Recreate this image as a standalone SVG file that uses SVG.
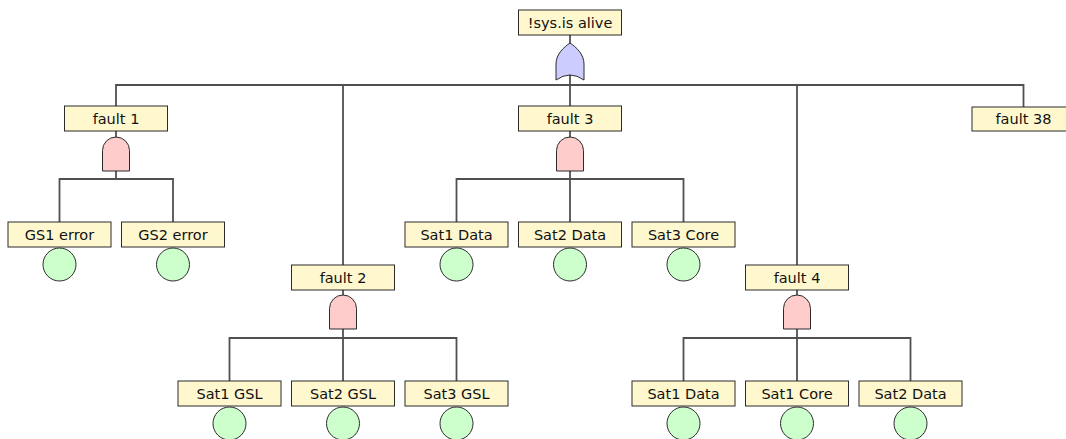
<svg xmlns="http://www.w3.org/2000/svg" width="1066" height="439" viewBox="0 0 1066 439">
  <style>
    .box { fill: #fff8cf; stroke: #2b2b2b; stroke-width: 1; }
    .lbl { font-family: "DejaVu Sans", "Liberation Sans", sans-serif; font-size: 14.5px; fill: #111111; text-anchor: middle; }
    .wire { fill: none; stroke: #505050; stroke-width: 1.8; }
    .and { fill: #ffcccc; stroke: #2b2b2b; stroke-width: 1; }
    .or { fill: #ccccff; stroke: #2b2b2b; stroke-width: 1; }
    .basic { fill: #ccffcc; stroke: #2b2b2b; stroke-width: 1; }
  </style>
  <defs>
    <!-- gate shapes, origin at the top centre -->
    <path id="andGate" class="and" d="M -13.5,34 V 13.5 A 13.5 13.5 0 0 1 13.5 13.5 V 34 Z"/>
    <path id="orGate" class="or" d="M -14,37 V 21 C -14,11 -6,4 0,0 C 6,4 14,11 14,21 V 37 Q 0,27 -14,37 Z"/>
  </defs>

  <rect width="1066" height="439" fill="#ffffff"/>

  <!-- connectors -->
  <g id="connectors" class="wire">
    <!-- top event to its children -->
    <path d="M 570,35 V 85"/>
    <path d="M 116,106 V 85 H 1023.5 V 107"/>
    <path d="M 343,85 V 265"/>
    <path d="M 570,85 V 106"/>
    <path d="M 797,85 V 265"/>
    <!-- fault 1 -->
    <path d="M 116,131 V 179"/>
    <path d="M 59.5,222 V 179 H 173 V 222"/>
    <!-- fault 3 -->
    <path d="M 570,131 V 222"/>
    <path d="M 456.5,222 V 179 H 683.5 V 222"/>
    <!-- fault 2 -->
    <path d="M 343,290 V 381"/>
    <path d="M 229.5,381 V 338 H 456.5 V 381"/>
    <!-- fault 4 -->
    <path d="M 797,290 V 381"/>
    <path d="M 683.5,381 V 338 H 910.5 V 381"/>
  </g>

  <!-- top event -->
  <g id="top">
    <rect class="box" x="518.5" y="10" width="103" height="25"/>
    <text class="lbl" x="570" y="27.5">!sys.is alive</text>
    <use href="#orGate" x="570" y="43"/>
  </g>

  <!-- intermediate events -->
  <g id="fault1">
    <rect class="box" x="64.5" y="106" width="103" height="25"/>
    <text class="lbl" x="116" y="123.5">fault 1</text>
    <use href="#andGate" x="116" y="137"/>
  </g>
  <g id="fault3">
    <rect class="box" x="518.5" y="106" width="103" height="25"/>
    <text class="lbl" x="570" y="123.5">fault 3</text>
    <use href="#andGate" x="570" y="137"/>
  </g>
  <g id="fault38">
    <rect class="box" x="972" y="107" width="103" height="24"/>
    <text class="lbl" x="1023.5" y="124">fault 38</text>
  </g>
  <g id="fault2">
    <rect class="box" x="291.5" y="265" width="103" height="25"/>
    <text class="lbl" x="343" y="282.5">fault 2</text>
    <use href="#andGate" x="343" y="295"/>
  </g>
  <g id="fault4">
    <rect class="box" x="745.5" y="265" width="103" height="25"/>
    <text class="lbl" x="797" y="282.5">fault 4</text>
    <use href="#andGate" x="797" y="295"/>
  </g>

  <!-- basic events -->
  <g id="gs1">
    <rect class="box" x="8" y="222" width="103" height="25"/>
    <text class="lbl" x="59.5" y="239.5">GS1 error</text>
    <circle class="basic" cx="59.5" cy="264.5" r="16.5"/>
  </g>
  <g id="gs2">
    <rect class="box" x="121.5" y="222" width="103" height="25"/>
    <text class="lbl" x="173" y="239.5">GS2 error</text>
    <circle class="basic" cx="173" cy="264.5" r="16.5"/>
  </g>
  <g id="f3sat1data">
    <rect class="box" x="405" y="222" width="103" height="25"/>
    <text class="lbl" x="456.5" y="239.5">Sat1 Data</text>
    <circle class="basic" cx="456.5" cy="264.5" r="16.5"/>
  </g>
  <g id="f3sat2data">
    <rect class="box" x="518.5" y="222" width="103" height="25"/>
    <text class="lbl" x="570" y="239.5">Sat2 Data</text>
    <circle class="basic" cx="570" cy="264.5" r="16.5"/>
  </g>
  <g id="f3sat3core">
    <rect class="box" x="632" y="222" width="103" height="25"/>
    <text class="lbl" x="683.5" y="239.5">Sat3 Core</text>
    <circle class="basic" cx="683.5" cy="264.5" r="16.5"/>
  </g>
  <g id="sat1gsl">
    <rect class="box" x="178" y="381" width="103" height="25"/>
    <text class="lbl" x="229.5" y="398.5">Sat1 GSL</text>
    <circle class="basic" cx="229.5" cy="423.5" r="16.5"/>
  </g>
  <g id="sat2gsl">
    <rect class="box" x="291.5" y="381" width="103" height="25"/>
    <text class="lbl" x="343" y="398.5">Sat2 GSL</text>
    <circle class="basic" cx="343" cy="423.5" r="16.5"/>
  </g>
  <g id="sat3gsl">
    <rect class="box" x="405" y="381" width="103" height="25"/>
    <text class="lbl" x="456.5" y="398.5">Sat3 GSL</text>
    <circle class="basic" cx="456.5" cy="423.5" r="16.5"/>
  </g>
  <g id="f4sat1data">
    <rect class="box" x="632" y="381" width="103" height="25"/>
    <text class="lbl" x="683.5" y="398.5">Sat1 Data</text>
    <circle class="basic" cx="683.5" cy="423.5" r="16.5"/>
  </g>
  <g id="f4sat1core">
    <rect class="box" x="745.5" y="381" width="103" height="25"/>
    <text class="lbl" x="797" y="398.5">Sat1 Core</text>
    <circle class="basic" cx="797" cy="423.5" r="16.5"/>
  </g>
  <g id="f4sat2data">
    <rect class="box" x="859" y="381" width="103" height="25"/>
    <text class="lbl" x="910.5" y="398.5">Sat2 Data</text>
    <circle class="basic" cx="910.5" cy="423.5" r="16.5"/>
  </g>
</svg>
